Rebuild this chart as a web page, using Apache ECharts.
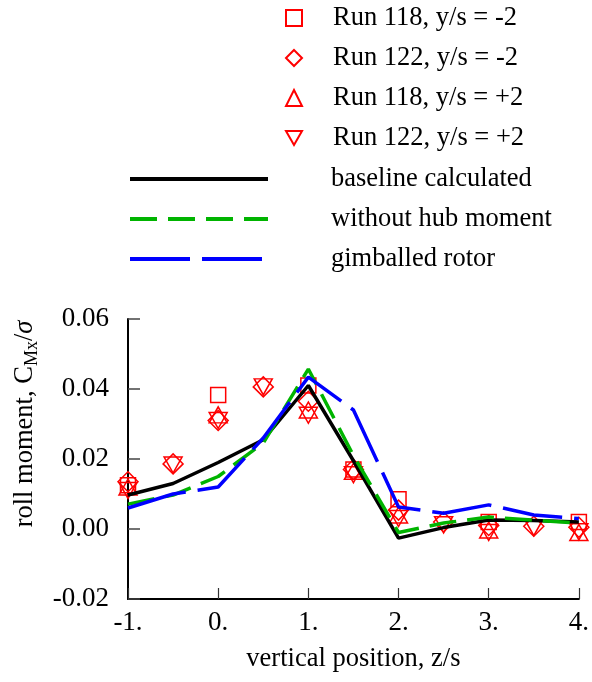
<!DOCTYPE html>
<html>
<head>
<meta charset="utf-8">
<script src="https://cdn.jsdelivr.net/npm/echarts@6/dist/echarts.min.js"></script>
<style>html,body{margin:0;padding:0;background:#fff}#c{width:592px;height:682px}</style>
</head>
<body>
<div id="c"></div>
<script>
// ---- data ----
const zCalc = [-1, -0.5, 0, 0.5, 1, 1.5, 2, 2.5, 3, 3.5, 4];
const baseline = [0.0097, 0.013, 0.019, 0.0255, 0.041, 0.0195, -0.0026, 0.0004, 0.0026, 0.0024, 0.002];
const noHub = [0.0071, 0.0097, 0.015, 0.0246, 0.0457, 0.021, -0.001, 0.0017, 0.0034, 0.0025, 0.0017];
const gimbal = [0.006, 0.010, 0.012, 0.026, 0.0434, 0.034, 0.0063, 0.0045, 0.0069, 0.004, 0.003];

const zR118m = [-1, 0, 1, 1.5, 2, 3, 4];
const vR118m = [0.0125, 0.0383, 0.041, 0.017, 0.0085, 0.002, 0.002];
const zR122m = [-1, -0.5, 0, 0.5, 1, 1.5, 2, 2.5, 3, 3.5, 4];
const vR122m = [0.0135, 0.0186, 0.031, 0.0406, 0.0365, 0.017, 0.0054, 0.002, 0.001, 0.0008, 0.0005];
const zR118p = [-1, 0, 1, 1.5, 2, 3, 4];
const vR118p = [0.012, 0.0326, 0.034, 0.0165, 0.004, -0.0003, -0.001];
const zR122p = [-1, -0.5, 0, 0.5, 1, 1.5, 2, 2.5, 3, 3.5, 4];
const vR122p = [0.011, 0.0183, 0.031, 0.0406, 0.0325, 0.0155, 0.003, 0.0012, -0.001, 0.0004, -0.0008];

const seriesNames = ['Run 118, y/s = -2', 'Run 122, y/s = -2', 'Run 118, y/s = +2', 'Run 122, y/s = +2',
  'baseline calculated', 'without hub moment', 'gimballed rotor'];
const yTitle = '{n|roll moment, C}{s|Mx}{n|/}{i|σ}';
const xTitle = 'vertical position, z/s';

const pair = (xs, ys) => xs.map((x, i) => [x, ys[i]]);
const FONT = 'Liberation Serif';
const FS = 26.5;
const downTri = 'path://M0,0 L20,0 L10,17.3 Z';

function scat(name, xs, ys, symbol, size) {
  return {
    name, type: 'scatter', data: pair(xs, ys), symbol, symbolSize: size,
    itemStyle: { color: 'rgba(0,0,0,0)', borderColor: '#ff0000', borderWidth: 1.5, opacity: 1 },
    z: 2
  };
}
function line(name, ys, color, dash) {
  return {
    name, type: 'line', data: pair(zCalc, ys), symbol: 'none', showSymbol: false,
    lineStyle: { color, width: 3.5, type: dash },
    itemStyle: { color },
    z: 3
  };
}

const chart = echarts.init(document.getElementById('c'), null, { renderer: 'canvas' });
chart.setOption({
  animation: false,
  backgroundColor: '#fff',
  textStyle: { fontFamily: FONT },
  grid: { left: 128, top: 319, width: 453, height: 280, containLabel: false },
  xAxis: {
    type: 'value', min: -1, max: 4, interval: 1,
    name: xTitle, nameLocation: 'middle', nameGap: 47,
    nameTextStyle: { fontFamily: FONT, fontSize: FS, color: '#000' },
    axisLine: { show: true, onZero: false, lineStyle: { color: '#000', width: 2 } },
    axisTick: { inside: true, length: 11, lineStyle: { color: '#333', width: 1.2 } },
    axisLabel: { margin: 10, fontFamily: FONT, fontSize: 27, color: '#000', formatter: v => v + '.' },
    splitLine: { show: false }
  },
  yAxis: {
    type: 'value', min: -0.02, max: 0.06, interval: 0.02,
    axisLine: { show: true, onZero: false, lineStyle: { color: '#000', width: 2 } },
    axisTick: { inside: true, length: 12, lineStyle: { color: '#444', width: 1.5 } },
    axisLabel: { margin: 19, fontFamily: FONT, fontSize: 27, color: '#000', formatter: v => v.toFixed(2) },
    splitLine: { show: false }
  },
  legend: [
    {
      data: seriesNames.slice(0, 4), orient: 'vertical', left: 285, top: 3, padding: 0,
      itemWidth: 16, itemHeight: 16, itemGap: 10,
      textStyle: { fontFamily: FONT, fontSize: FS, color: '#000', lineHeight: 30, padding: [0, 0, 0, 26] },
      selectedMode: false
    },
    {
      data: seriesNames.slice(4), orient: 'vertical', left: 128, top: 164, padding: 0,
      itemWidth: 138, itemHeight: 14, itemGap: 10,
      itemStyle: { opacity: 0 },
      lineStyle: { width: 4 },
      textStyle: { fontFamily: FONT, fontSize: FS, color: '#000', lineHeight: 30, padding: [0, 0, 0, 58] },
      selectedMode: false
    }
  ],
  graphic: [{
    type: 'text', x: 25, y: 424, rotation: Math.PI / 2,
    style: {
      text: yTitle, align: 'center', verticalAlign: 'middle',
      rich: {
        n: { fontFamily: FONT, fontSize: FS, fill: '#000', lineHeight: 32 },
        i: { fontFamily: FONT, fontSize: FS, fontStyle: 'italic', fill: '#000', lineHeight: 32 },
        s: { fontFamily: FONT, fontSize: 18, fill: '#000', lineHeight: 18, verticalAlign: 'bottom' }
      }
    }
  }],
  series: [
    scat(seriesNames[0], zR118m, vR118m, 'rect', 15),
    scat(seriesNames[1], zR122m, vR122m, 'diamond', 20),
    scat(seriesNames[2], zR118p, vR118p, 'triangle', [18, 16]),
    scat(seriesNames[3], zR122p, vR122p, downTri, [18, 16]),
    line(seriesNames[4], baseline, '#000000', 'solid'),
    line(seriesNames[5], noHub, '#00b400', [27, 11]),
    line(seriesNames[6], gimbal, '#0000ff', [60, 12])
  ]
});
</script>
</body>
</html>
